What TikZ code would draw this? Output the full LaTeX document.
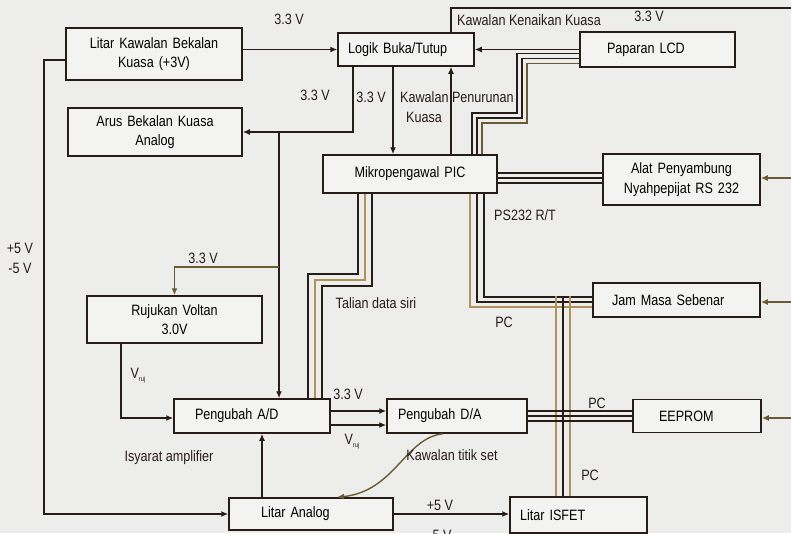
\documentclass[tikz,border=0pt]{standalone}
\usepackage{fontspec}
\setmainfont{Liberation Sans}[FakeStretch=0.84]
\usetikzlibrary{arrows.meta}
\definecolor{garis}{RGB}{40,28,24}
\definecolor{zaitun}{RGB}{105,92,52}
\definecolor{sawo}{RGB}{176,146,92}
\definecolor{latar}{RGB}{237,237,236}
\definecolor{isi}{RGB}{243,243,242}
\newcommand{\vruj}{V\raisebox{-3pt}{\fontsize{7}{7}\selectfont ruj}}

\begin{document}
\begin{tikzpicture}[
    x=1pt, y=-1pt,
    font=\fontsize{15}{19.5}\selectfont,
    kotak/.style={draw=garis, fill=isi, line width=1.5pt},
    teks/.style={inner sep=1pt, text=garis},
    panah/.style={draw=garis, line width=1.4pt, -{Latex[length=7pt,width=6pt]}},
    bas/.style={draw=garis, line width=1.3pt}]
  \fill[latar] (0,0) rectangle (791,533);
  \useasboundingbox (0,0) rectangle (791,533);
  % blok atas
  \node[kotak, minimum height=52pt, inner xsep=4pt, text width=168pt, align=center] (litar) at (154,54) {Litar Kawalan Bekalan\\Kuasa (+3V)};
  \node[kotak, minimum height=33pt, inner xsep=10pt, text width=116pt, align=left] (logik) at (406,49.5) {Logik Buka/Tutup};
  \node[kotak, minimum height=35pt, inner xsep=27pt, text width=101pt, align=left] (lcd) at (657.5,49.5) {Paparan LCD};
  \node[kotak, minimum height=48pt, inner xsep=4pt, text width=166pt, align=center] (arus) at (155,132) {Arus Bekalan Kuasa\\Analog};
  \node[kotak, minimum height=38pt, inner xsep=4pt, text width=166pt, align=center] (pic) at (410,174) {Mikropengawal PIC};
  \node[kotak, minimum height=51pt, inner xsep=4pt, text width=149pt, align=center] (rs) at (681.5,179.5) {Alat Penyambung\\Nyahpepijat RS 232};
  % blok tengah
  \node[kotak, minimum height=47pt, inner xsep=4pt, text width=167pt, align=center] (rujukan) at (174.5,319.5) {Rujukan Voltan\\3.0V};
  \node[kotak, minimum height=34pt, inner xsep=19pt, text width=129pt, align=left] (jam) at (676.5,300) {Jam Masa Sebenar};
  % blok bawah
  \node[kotak, minimum height=34pt, inner xsep=21pt, text width=114pt, align=left] (ad) at (252,416) {Pengubah A/D};
  \node[kotak, minimum height=34pt, inner xsep=11pt, text width=118pt, align=left] (da) at (457,416) {Pengubah D/A};
  \node[kotak, minimum height=33pt, inner xsep=26pt, text width=76pt, align=left] (eeprom) at (697,416) {EEPROM};
  \node[kotak, minimum height=32pt, inner xsep=32pt, text width=100pt, align=left] (analog) at (311,514) {Litar Analog};
  \node[kotak, minimum height=36pt, inner xsep=10pt, text width=117pt, align=left] (isfet) at (578.5,515) {Litar ISFET};
  % bekalan kuasa
  \coordinate (kanan0) at (791,8);
  \coordinate (kiri) at (44,514);
  \coordinate (cabang) at (279,132);
  \coordinate (cabang2) at (279,267);
  \draw[panah] (litar.east |- logik.west) -- (logik.west);
  \draw[panah] ([yshift=-6pt]litar.west) -| (kiri) -- (analog.west);
  \draw[panah] ([xshift=-53pt]logik.south) |- (arus.east);
  \draw[panah] (cabang) -- ([xshift=27pt]ad.north);
  \draw[panah, draw=zaitun] (cabang2) -| (rujukan.north);
  \draw[panah] ([xshift=-13pt]logik.south) -- ([xshift=-17pt]pic.north);
  \draw[panah] ([xshift=41pt]pic.north) -- ([xshift=45pt]logik.south);
  \draw[bas] ([xshift=45pt]logik.north) |- (kanan0);
  \draw[panah] (lcd.west) -- (logik.east);
  % talian bas
  \foreach \d/\w in {0/garis,1/garis,2/zaitun}
    \draw[bas, draw=\w] ([yshift={(-4-5*\d)*1pt}]lcd.west) -| (517+5*\d,113+5*\d) -| ([xshift={(62+5*\d)*1pt}]pic.north);
  \foreach \d in {-1,0,1}
    \draw[bas] ([yshift={(-4-5*\d)*1pt}]pic.east) -- ([yshift={(1.5-5*\d)*1pt}]rs.west);
  \foreach \d/\w in {0/sawo,1/garis,2/garis}
    \draw[bas, draw=\w] ([xshift={(60+7*\d)*1pt}]pic.south) |- ([yshift={(-7+5*\d)*1pt}]jam.west);
  \foreach \d/\w in {0/sawo,1/garis,2/sawo}
    \draw[bas, draw=\w] ([xshift={(-22.5+7*\d)*1pt}]isfet.north) -- ++(0,-200);
  \foreach \d/\w in {0/garis,1/sawo,2/garis}
    \draw[bas, draw=\w] ([xshift={(-52+7*\d)*1pt}]pic.south) |- (308+7*\d,274+6*\d) -- ([xshift={(56+7*\d)*1pt}]ad.north);
  \foreach \d in {-1,0,1}
    \draw[bas] ([yshift={-5*\d*1pt}]da.east) -- ([yshift={-5*\d*1pt}]eeprom.west);
  % masukan dari kanan
  \coordinate (kanan1) at (791,178);
  \coordinate (kanan2) at (791,302);
  \coordinate (kanan3) at (791,418);
  \draw[panah, draw=zaitun] (kanan1) -- (kanan1 -| rs.east);
  \draw[panah, draw=zaitun] (kanan2) -- (kanan2 -| jam.east);
  \draw[panah, draw=zaitun] (kanan3) -- (kanan3 -| eeprom.east);
  % isyarat analog
  \draw[panah] ([xshift=-53.5pt]rujukan.south) |- ([yshift=-2pt]ad.west);
  \draw[panah] ([yshift=5pt]ad.east) -- ([yshift=5pt]da.west);
  \draw[panah] ([yshift=-9pt]ad.east) -- ([yshift=-9pt]da.west);
  \draw[panah] ([xshift=-49pt]analog.north) -- ([xshift=10pt]ad.south);
  \draw[panah, draw=zaitun] ([xshift=-14pt]da.south) .. controls +(-38,4) and +(58,-6) .. ([xshift=26pt]analog.north);
  \draw[panah] (analog.east) -- (analog.east -| isfet.west);
  % label
  \node[teks] (l1) at (289,19) {3.3 V};
  \node[teks] (l2) at (20,248) {+5 V};
  \node[teks] (l3) at (20,268) {-5 V};
  \node[teks] (l4) at (315,95) {3.3 V};
  \node[teks] (l5) at (371,97) {3.3 V};
  \node[teks, anchor=west, align=left] (l6) at (399,107) {Kawalan Penurunan\\\hspace*{6pt}Kuasa};
  \node[teks] (l7) at (529,20) {Kawalan Kenaikan Kuasa};
  \node[teks] (l8) at (649,16) {3.3 V};
  \node[teks] (l9) at (203,258) {3.3 V};
  \node[teks] (l10) at (376,303) {Talian data siri};
  \node[teks] (l11) at (525,215) {PS232 R/T};
  \node[teks] (l12) at (504,322) {PC};
  \node[teks] (l13) at (597,403) {PC};
  \node[teks] (l14) at (590,475) {PC};
  \node[teks] (l15) at (138,376) {\vruj};
  \node[teks] (l16) at (348,394) {3.3 V};
  \node[teks] (l17) at (352,442) {\vruj};
  \node[teks] (l18) at (169,458) {Isyarat amplifier};
  \node[teks] (l19) at (452,455) {Kawalan titik set};
  \node[teks] (l20) at (440,505) {+5 V};
  \node[teks] (l21) at (440,535) {-5 V};
\end{tikzpicture}
\end{document}
